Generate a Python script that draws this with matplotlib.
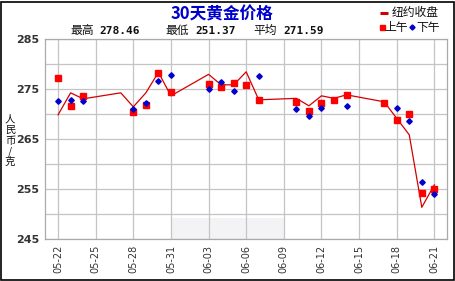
import pandas as pd
import matplotlib
matplotlib.use('Agg')
import matplotlib.pyplot as plt
import matplotlib.dates as mdates
from matplotlib.patches import Rectangle
from matplotlib.lines import Line2D

plt.rcParams['font.family'] = ['Noto Sans CJK SC', 'DejaVu Sans']

# NY close line
line_dates = ['05-22', '05-23', '05-24', '05-27', '05-28', '05-29', '05-30', '05-31',
              '06-03', '06-04', '06-05', '06-06', '06-07', '06-10', '06-11', '06-12',
              '06-13', '06-14', '06-17', '06-18', '06-19', '06-20', '06-21']
ny_close = [269.9, 274.3, 273.1, 274.3, 271.5, 274.3, 278.4, 273.7,
            278.0, 275.9, 275.9, 278.5, 272.9, 273.2, 271.7, 273.7,
            273.2, 273.9, 272.5, 269.2, 265.9, 251.4, 255.9]

# morning / afternoon prices (None = not shown)
am_price = [277.2, 271.7, 273.7, None, 270.4, 271.9, 278.2, 274.5,
            276.0, 275.4, 276.2, 275.8, 272.9, 272.4, 270.7, 272.2,
            272.9, 273.9, 272.2, 268.9, 270.0, 254.2, 255.0]
pm_price = [272.7, 272.9, 272.7, None, 271.1, 272.3, 276.7, 277.9,
            275.0, 276.4, 274.7, None, 277.7, 271.0, 269.7, 271.2,
            None, 271.7, None, 271.2, 268.6, 256.4, 254.0]

tick_dates = ['05-22', '05-25', '05-28', '05-31', '06-03', '06-06',
              '06-09', '06-12', '06-15', '06-18', '06-21']

title = '30天黄金价格'
stats = [('最高', '278.46'), ('最低', '251.37'), ('平均', '271.59')]
ylabel = '人民币/克'

to_dt = lambda ds: pd.to_datetime(['2013-' + d for d in ds])
x = to_dt(line_dates)
am = pd.Series(am_price, index=x, dtype=float)
pm = pd.Series(pm_price, index=x, dtype=float)

fig = plt.figure(figsize=(4.56, 2.81), dpi=100)
fig.patch.set_facecolor('white')
fig.add_artist(Rectangle((0.002, 0.004), 0.994, 0.99, transform=fig.transFigure,
                         fill=False, edgecolor='black', linewidth=1.2))

ax = fig.add_axes([0.0987, 0.1484, 0.8813, 0.7116])

# faint watermark block
ax.add_patch(Rectangle((0.314, 0.0), 0.28, 0.108, transform=ax.transAxes,
                       facecolor='#f3f3f6', edgecolor='none', zorder=0))

ax.plot(x, ny_close, color='#d40000', linewidth=0.9, zorder=3)
ax.plot(am.index, am.values, linestyle='none', marker='s', markersize=4.5,
        color='#ff0000', zorder=4)
ax.plot(pm.index, pm.values, linestyle='none', marker='D', markersize=2.8,
        color='#0000cc', zorder=5)

ax.set_ylim(245, 285)
ax.set_yticks(range(245, 286, 5))
ax.set_yticklabels([str(v) if (v - 245) % 10 == 0 else '' for v in range(245, 286, 5)],
                   fontsize=8, fontweight='bold', color='#333333', family='DejaVu Sans')
ticks = to_dt(tick_dates)
ax.set_xlim(ticks[0] - pd.Timedelta(hours=25), ticks[-1] + pd.Timedelta(hours=24))
ax.set_xticks(ticks)
ax.xaxis.set_major_formatter(mdates.DateFormatter('%m-%d'))
plt.setp(ax.get_xticklabels(), rotation=90, fontsize=7, color='#333333',
         family='DejaVu Sans')
ax.tick_params(length=0, pad=4)
ax.grid(True, color='#c4c4c4', linewidth=0.9)
ax.set_axisbelow(True)
for s in ax.spines.values():
    s.set_color('#aaaaaa')
    s.set_linewidth(0.9)

# stacked vertical y label, one char per row
for i, ch in enumerate(ylabel):
    fig.text(0.022, 1 - (119 + i * 10.8) / 281, ch, fontsize=7.5, ha='center',
             va='center', color='#111111')

fig.text(0.487, 0.950, title, fontsize=12, fontweight='bold', color='#0000cc',
         ha='center', va='center')
for (lab, val), px, nx in zip(stats, [0.155, 0.362, 0.555], [0.217, 0.428, 0.621]):
    fig.text(px, 0.893, lab, fontsize=8.5, ha='left', va='center', color='#111111')
    fig.text(nx, 0.891, val, fontsize=8, ha='left', va='center',
             fontweight='bold', color='#111111', family='DejaVu Sans Mono')

# legend keys drawn in figure coords
fig.add_artist(Line2D([0.834, 0.850], [0.954, 0.954], transform=fig.transFigure,
                      color='#cc0000', linewidth=2.2, solid_capstyle='butt'))
fig.text(0.858, 0.955, '纽约收盘', fontsize=8.5, color='#111111', ha='left', va='center')
fig.add_artist(Line2D([0.837], [0.903], transform=fig.transFigure, marker='s',
                      markersize=3.6, color='#ff0000', linestyle='none'))
fig.text(0.843, 0.903, '上午', fontsize=8.5, color='#111111', ha='left', va='center')
fig.add_artist(Line2D([0.904], [0.903], transform=fig.transFigure, marker='D',
                      markersize=2.6, color='#0000cc', linestyle='none'))
fig.text(0.913, 0.903, '下午', fontsize=8.5, color='#111111', ha='left', va='center')

fig.savefig('out.png', dpi=100, facecolor='white')
